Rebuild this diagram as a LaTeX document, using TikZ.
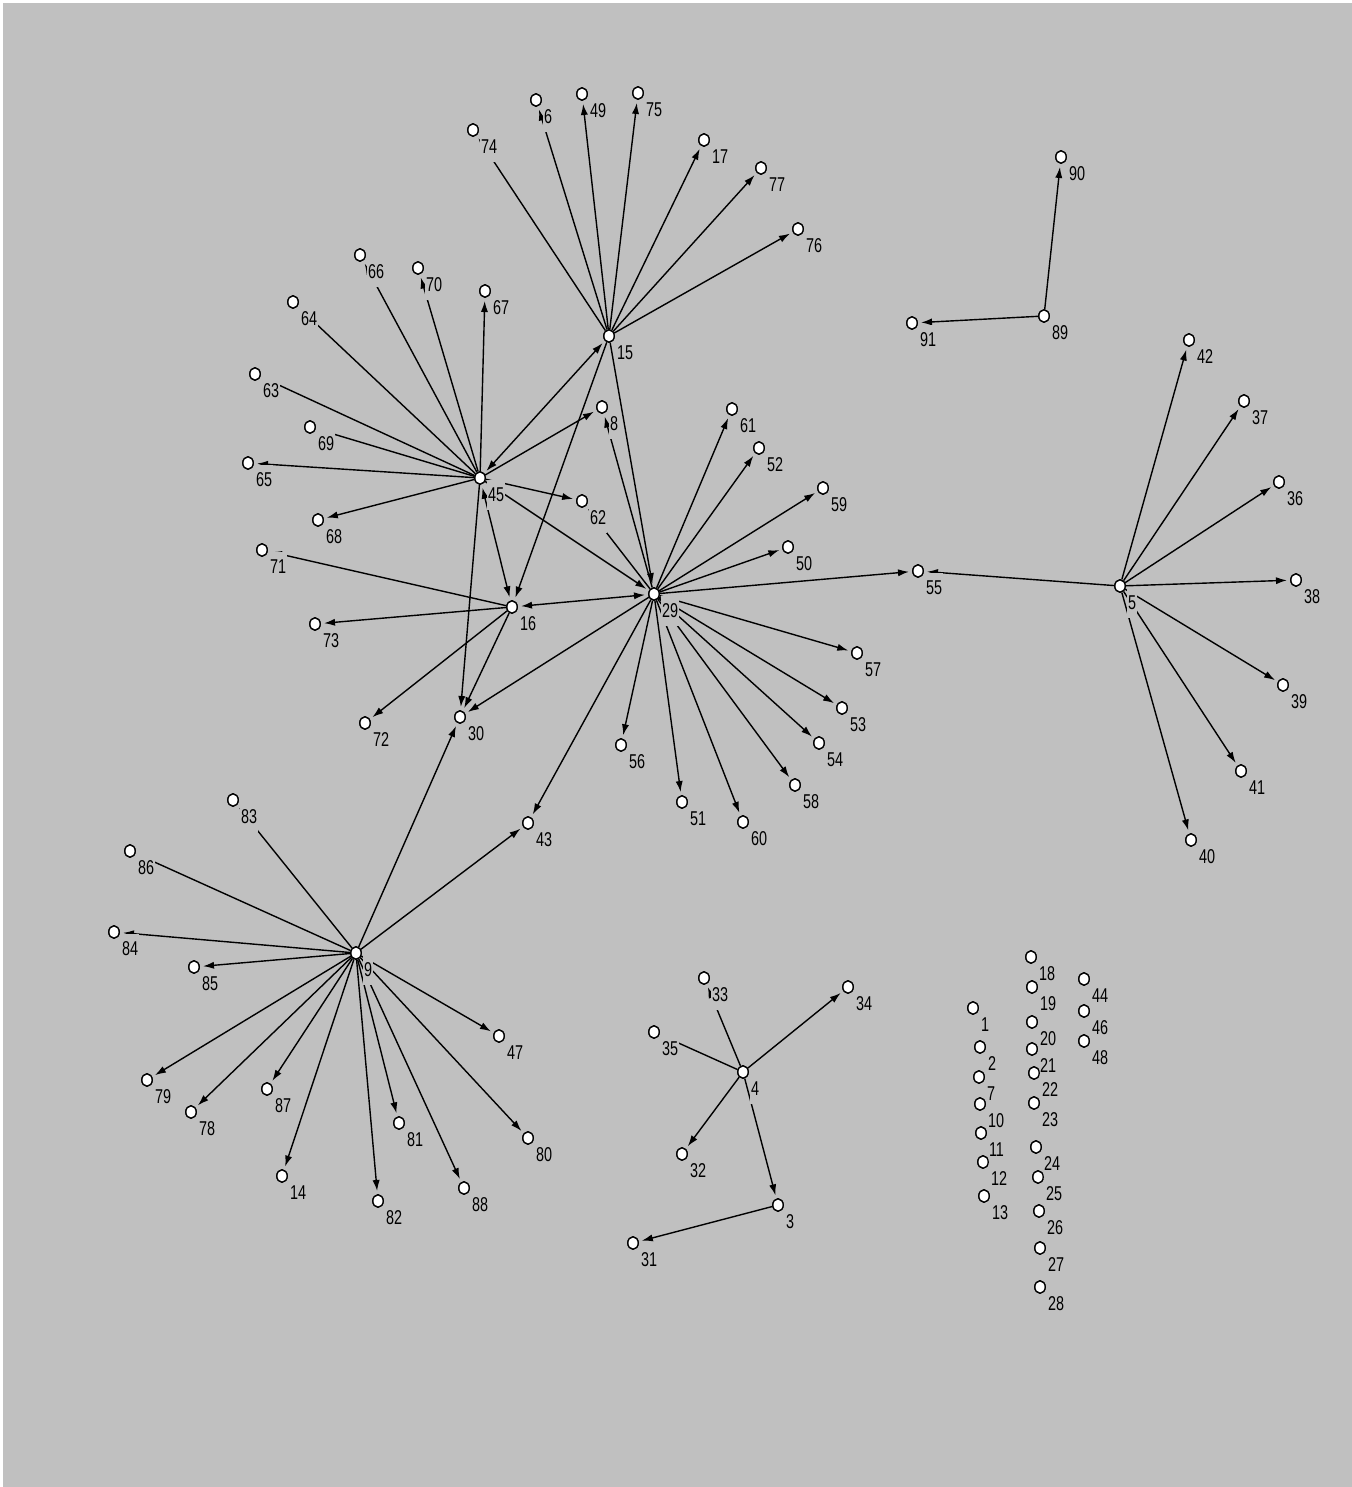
\documentclass[tikz,border=0pt]{standalone}
\usepackage{fontspec}
\newfontfamily\lblfont{Liberation Sans}[FakeStretch=0.72]
\usetikzlibrary{arrows.meta,shapes.geometric}
\definecolor{bg}{RGB}{192,192,192}
\tikzset{
 vtx/.style={ellipse,draw=black,fill=white,line width=0.65pt,minimum width=5.2pt,minimum height=6.2pt,inner sep=0pt},
 lbl/.style={anchor=west,fill=bg,inner xsep=0.3pt,inner ysep=4.2pt,font=\lblfont\fontsize{10}{10}\selectfont,text=black},
 dirE/.style={draw=black,line width=0.7pt,-{Latex[length=5.5pt,width=3.6pt]},shorten >=1.6pt},
 bothE/.style={draw=black,line width=0.7pt,{Latex[length=5.5pt,width=3.6pt]}-{Latex[length=5.5pt,width=3.6pt]},shorten >=1.6pt,shorten <=1.6pt}
}
\begin{document}
\begin{tikzpicture}[x=0.5pt,y=-0.5pt]
\useasboundingbox (0,0) rectangle (1352,1487);
\fill[white] (0,0) rectangle (1352,1487);
\fill[bg] (3,3) rectangle (1352,1487);
% vertices
\foreach \n/\x/\y in {1/973/1008,2/980/1047,3/778/1205,4/743/1072,5/1120/586,6/536/100,7/979/1077,8/602/407,9/356/953,10/980/1104,
11/981/1133,12/983/1162,13/984/1196,14/282/1176,15/609/336,16/512/607,17/704/140,18/1031/957,19/1032/987,20/1032/1022,
21/1032/1049,22/1034/1073,23/1034/1103,24/1036/1147,25/1038/1177,26/1039/1211,27/1040/1248,28/1040/1287,29/654/594,30/460/717,
31/633/1243,32/682/1154,33/704/978,34/848/987,35/654/1032,36/1279/482,37/1244/401,38/1296/580,39/1283/685,40/1191/840,
41/1241/771,42/1189/340,43/528/823,44/1084/979,45/480/478,46/1084/1011,47/499/1036,48/1084/1041,49/582/94,50/788/547,
51/682/802,52/759/448,53/842/708,54/819/743,55/918/571,56/621/745,57/857/653,58/795/785,59/823/488,60/743/822,
61/732/409,62/582/501,63/255/374,64/293/302,65/248/463,66/360/255,67/485/291,68/318/520,69/310/427,70/418/268,
71/262/550,72/365/723,73/315/624,74/473/130,75/638/93,76/798/229,77/761/168,78/191/1112,79/147/1080,80/528/1138,
81/399/1123,82/378/1201,83/233/800,84/114/932,85/194/967,86/130/851,87/267/1089,88/464/1188,89/1044/316,90/1061/157,91/912/323}
 {\node[vtx] (n\n) at (\x,\y) {};}
% directed edges
\foreach \a/\b in {15/74,15/6,15/49,15/75,15/17,15/77,15/76,15/16,15/29,
45/66,45/64,45/63,45/69,45/65,45/70,45/67,45/68,45/62,45/29,45/30,45/8,
29/8,29/62,29/61,29/52,29/59,29/50,29/57,29/53,29/54,29/58,29/60,29/51,29/56,29/55,29/30,29/43,
16/71,16/73,16/72,16/30,
5/55,5/42,5/37,5/36,5/38,5/39,5/41,5/40,
89/90,89/91,
9/83,9/86,9/84,9/85,9/79,9/78,9/87,9/14,9/82,9/81,9/88,9/80,9/47,9/43,9/30,
4/33,4/35,4/34,4/32,4/3,3/31}
 {\draw[dirE] (n\a) -- (n\b);}
% reciprocal edges
\foreach \a/\b in {15/45,45/16,16/29}
 {\draw[bothE] (n\a) -- (n\b);}
% labels
\foreach \n in {1,...,91}
 {\path (n\n) ++(7,17) node[lbl] {\n};}
% vertices on top
\foreach \n in {1,...,91}
 {\node[vtx] at (n\n) {};}
\end{tikzpicture}
\end{document}
